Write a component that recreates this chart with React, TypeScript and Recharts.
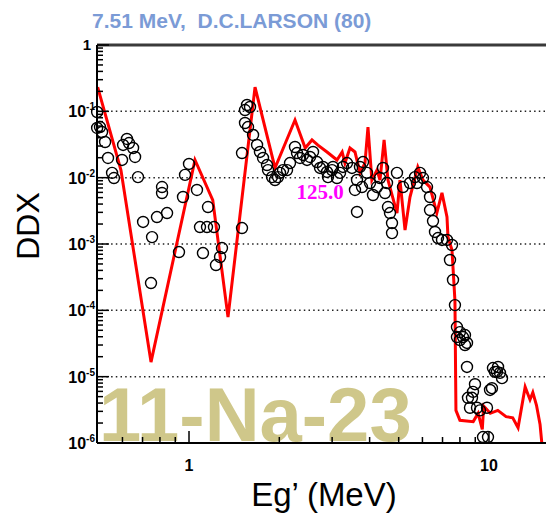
import { ComposedChart, Line, Scatter, XAxis, YAxis, ReferenceLine } from "recharts";

// measured points (Larson 1980), outgoing gamma energy in MeV and DDX
const expEnergy = [
  0.494, 0.494, 0.505, 0.513, 0.525, 0.537, 0.554, 0.562, 0.598, 0.603, 0.621, 0.631, 0.651, 0.661, 0.676,
  0.703, 0.747, 0.753, 0.782, 0.813, 0.813, 0.845, 0.926, 0.955, 0.97, 1.0, 1.063, 1.088, 1.113, 1.148,
  1.157, 1.211, 1.23, 1.269, 1.288, 1.502, 1.502, 1.537, 1.537, 1.561, 1.573, 1.597, 1.635, 1.686, 1.724,
  1.765, 1.82, 1.834, 1.891, 1.935, 1.98, 2.011, 2.058, 2.122, 2.171, 2.256, 2.291, 2.344, 2.399, 2.474,
  2.532, 2.591, 2.672, 2.734, 2.797, 2.884, 2.906, 2.997, 3.02, 3.114, 3.187, 3.261, 3.363, 3.494, 3.575,
  3.631, 3.631, 3.715, 3.773, 3.802, 3.92, 4.012, 4.105, 4.234, 4.332, 4.433, 4.502, 4.571, 4.606, 4.677,
  4.75, 4.75, 4.935, 5.168, 5.453, 5.666, 5.754, 5.888, 6.026, 6.214, 6.359, 6.359, 6.507, 6.607, 6.761,
  6.972, 7.244, 7.413, 7.528, 7.586, 7.701, 7.82, 7.82, 8.003, 8.003, 8.189, 8.318, 8.318, 8.447, 8.447,
  8.511, 8.643, 8.776, 8.844, 8.98, 9.12, 9.333, 9.55, 9.847, 9.924, 10.08, 10.23, 10.31, 10.47, 10.63,
  10.72, 10.88, 11.05,
];
const expDdx = [
  0.0977, 0.0561, 0.058, 0.0488, 0.0345, 0.0198, 0.0118, 0.00988, 0.0185, 0.0311, 0.0383, 0.0333, 0.028, 0.0205, 0.0102,
  0.00215, 0.000258, 0.00127, 0.00255, 0.00723, 0.00587, 0.00293, 0.000757, 0.00511, 0.011, 0.0161, 0.00652, 0.0018, 0.000731, 0.0018,
  0.00361, 0.0018, 0.000482, 0.000637, 0.00087, 0.0235, 0.00174, 0.1047, 0.0667, 0.1246, 0.058, 0.1162, 0.044, 0.0311, 0.0244,
  0.0198, 0.0155, 0.013, 0.0102, 0.00922, 0.0102, 0.0118, 0.013, 0.013, 0.0166, 0.029, 0.0235, 0.0198, 0.022, 0.0185,
  0.0205, 0.0244, 0.0172, 0.014, 0.0145, 0.0122, 0.0102, 0.013, 0.0145, 0.00988, 0.0118, 0.0145, 0.0166, 0.014, 0.00652,
  0.00922, 0.00304, 0.0145, 0.00723, 0.0172, 0.0118, 0.00831, 0.00548, 0.00723, 0.00988, 0.014, 0.00587, 0.00831, 0.00361, 0.00293,
  0.00207, 0.00146, 0.0118, 0.00723, 0.00831, 0.0102, 0.00831, 0.0118, 0.00988, 0.00723, 0.00511, 0.00325, 0.00222, 0.00152, 0.00123,
  0.00115, 0.00115, 0.000574, 0.000966, 0.000287, 0.00012, 5.6e-5, 3.96e-5, 4.7e-5, 3.57e-5, 3.96e-5, 4.24e-5, 3.0e-5, 3.22e-5, 1.4e-5,
  4.8e-6, 3.4e-6, 4.8e-6, 5.9e-6, 7.7e-6, 3.4e-6, 3.1e-6, 1.23e-6, 3.4e-6, 1.23e-6, 6.3e-6, 6.7e-6, 1.35e-5, 1.18e-5, 1.18e-5,
  1.4e-5, 1.14e-5, 9.5e-6,
];

// evaluated curve at 125.0 deg
const calcEnergy = [
  0.496, 0.593, 0.747, 1.047, 1.2, 1.349, 1.66, 1.935, 2.256, 2.44, 2.57, 2.69, 2.884, 3.114, 3.24,
  3.31, 3.44, 3.575, 3.715, 3.86, 3.95, 4.07, 4.234, 4.332, 4.47, 4.606, 4.935, 5.05, 5.25, 5.453,
  5.79, 6.026, 6.359, 6.7, 6.97, 7.244, 7.3, 7.528, 7.7, 7.76, 8.0, 8.86, 9.2, 9.5, 9.6,
  10.1, 10.7, 11.4, 12.0, 12.5, 13.2, 13.7, 14.0, 14.4, 14.8, 15.0,
];
const calcDdx = [
  0.232, 0.013, 1.66e-5, 0.0185, 0.0046, 7.9e-5, 0.232, 0.014, 0.074, 0.028, 0.037, 0.031, 0.0244, 0.0185, 0.0244,
  0.0166, 0.028, 0.0244, 0.0118, 0.0166, 0.058, 0.0092, 0.013, 0.0092, 0.037, 0.0092, 0.00293, 0.0092, 0.00162, 0.0051,
  0.0145, 0.0092, 0.0072, 0.00293, 0.0059, 0.00255, 0.00127, 0.00081, 0.00014, 3.1e-6, 2.2e-6, 2.1e-6, 2.8e-6, 1.6e-6, 3.6e-6,
  2.8e-6, 3.1e-6, 2.5e-6, 2.4e-6, 1.7e-6, 7e-6, 4.5e-6, 5.8e-6, 3.7e-6, 1.9e-6, 1.0e-6,
];

const xMajor = [1, 10];
const xTicks = [0.6, 0.7, 0.8, 0.9, 1, 2, 3, 4, 5, 6, 7, 8, 9, 10];
const yMajor = [1, 0.1, 0.01, 0.001, 1e-4, 1e-5, 1e-6];
const yExponents = ["", "-1", "-2", "-3", "-4", "-5", "-6"];
const yMinorFactors = [2, 3, 4, 5, 6, 7, 8, 9];
const yTicks = [
  ...yMajor,
  ...yMajor.slice(1).flatMap((d) => yMinorFactors.map((f) => +(f * d).toPrecision(3))),
];
const gridLevels = [0.1, 0.01, 0.001, 1e-4, 1e-5];

const expPoints = expEnergy.map((x, i) => ({ x, y: expDdx[i] }));
const calcPoints = calcEnergy.map((x, i) => ({ x, y: calcDdx[i] }));

const SANS = "'Liberation Sans', Arial, sans-serif";

function XTick(props: any) {
  const { x, y, payload } = props;
  const major = xMajor.includes(payload.value);
  return (
    <g>
      <line x1={x} x2={x} y1={y} y2={y - (major ? 12 : 6)} stroke="#000" strokeWidth={1.5} />
      {major && (
        <text x={x} y={y + 28} textAnchor="middle" fontFamily={SANS} fontWeight="bold" fontSize={16} fill="#000">
          {payload.value}
        </text>
      )}
    </g>
  );
}

function YTick(props: any) {
  const { x, y, payload } = props;
  const idx = yMajor.indexOf(payload.value);
  const major = idx >= 0;
  return (
    <g>
      <line x1={x} x2={x + (major ? 12 : 6)} y1={y} y2={y} stroke="#000" strokeWidth={1.5} />
      {major && idx === 0 && (
        <text x={x - 6} y={y + 5} textAnchor="end" fontFamily={SANS} fontWeight="bold" fontSize={15} fill="#000">
          1
        </text>
      )}
      {major && idx > 0 && (
        <text x={x - 2} y={y + 6} textAnchor="end" fontFamily={SANS} fontWeight="bold" fontSize={16} fill="#000">
          10
          <tspan fontSize={10} dy={-7}>
            {yExponents[idx]}
          </tspan>
        </text>
      )}
    </g>
  );
}

const circle = (p: any) => (
  <circle cx={p.cx} cy={p.cy} r={5.5} fill="none" stroke="#000" strokeWidth={1.4} />
);

export default function App() {
  return (
    <div style={{ position: "absolute", left: 0, top: 0, width: 546, height: 518, background: "#fff" }}>
      <ComposedChart width={546} height={518} margin={{ top: 45, right: 0, bottom: 0, left: 0 }}>
        <text x={92} y={28} fontFamily={SANS} fontWeight="bold" fontSize={21} fill="#7b9bd6">
          {"7.51 MeV,\u00a0\u00a0D.C.LARSON (80)"}
        </text>
        <text x={99} y={441} fontFamily={SANS} fontWeight="bold" fontSize={76} fill="#cfc78a">
          11-Na-23
        </text>
        <XAxis
          dataKey="x"
          type="number"
          scale="log"
          domain={[0.4935, 15.49]}
          ticks={xTicks}
          tick={<XTick />}
          tickLine={false}
          tickSize={0}
          tickMargin={0}
          height={75}
          axisLine={{ stroke: "#000", strokeWidth: 2 }}
          interval={0}
        />
        <YAxis
          dataKey="y"
          type="number"
          scale="log"
          domain={[1e-6, 1]}
          ticks={yTicks}
          tick={<YTick />}
          tickLine={false}
          tickSize={0}
          tickMargin={0}
          width={97}
          axisLine={{ stroke: "#000", strokeWidth: 2 }}
          interval={0}
        />
        {gridLevels.map((v) => (
          <ReferenceLine key={v} y={v} stroke="#222" strokeWidth={1.5} strokeDasharray="1.5 3.2" />
        ))}
        <ReferenceLine y={1} stroke="#3a3a3a" strokeWidth={3} />
        <Scatter data={expPoints} shape={circle} isAnimationActive={false} />
        <Line
          data={calcPoints}
          dataKey="y"
          type="linear"
          stroke="#ff0000"
          strokeWidth={3}
          dot={false}
          activeDot={false}
          isAnimationActive={false}
        />
        <text x={320} y={199} textAnchor="middle" fontFamily="'Liberation Serif', 'Times New Roman', serif" fontWeight="bold" fontSize={21} fill="#ff00ff">
          125.0
        </text>
        <text
          x={28}
          y={226}
          transform="rotate(-90, 28, 226)"
          textAnchor="middle"
          dominantBaseline="central"
          fontFamily={SANS}
          fontSize={32}
          fill="#000"
        >
          DDX
        </text>
        <text x={324} y={506} textAnchor="middle" fontFamily={SANS} fontSize={33} fill="#000">
          Eg’ (MeV)
        </text>
      </ComposedChart>
    </div>
  );
}
